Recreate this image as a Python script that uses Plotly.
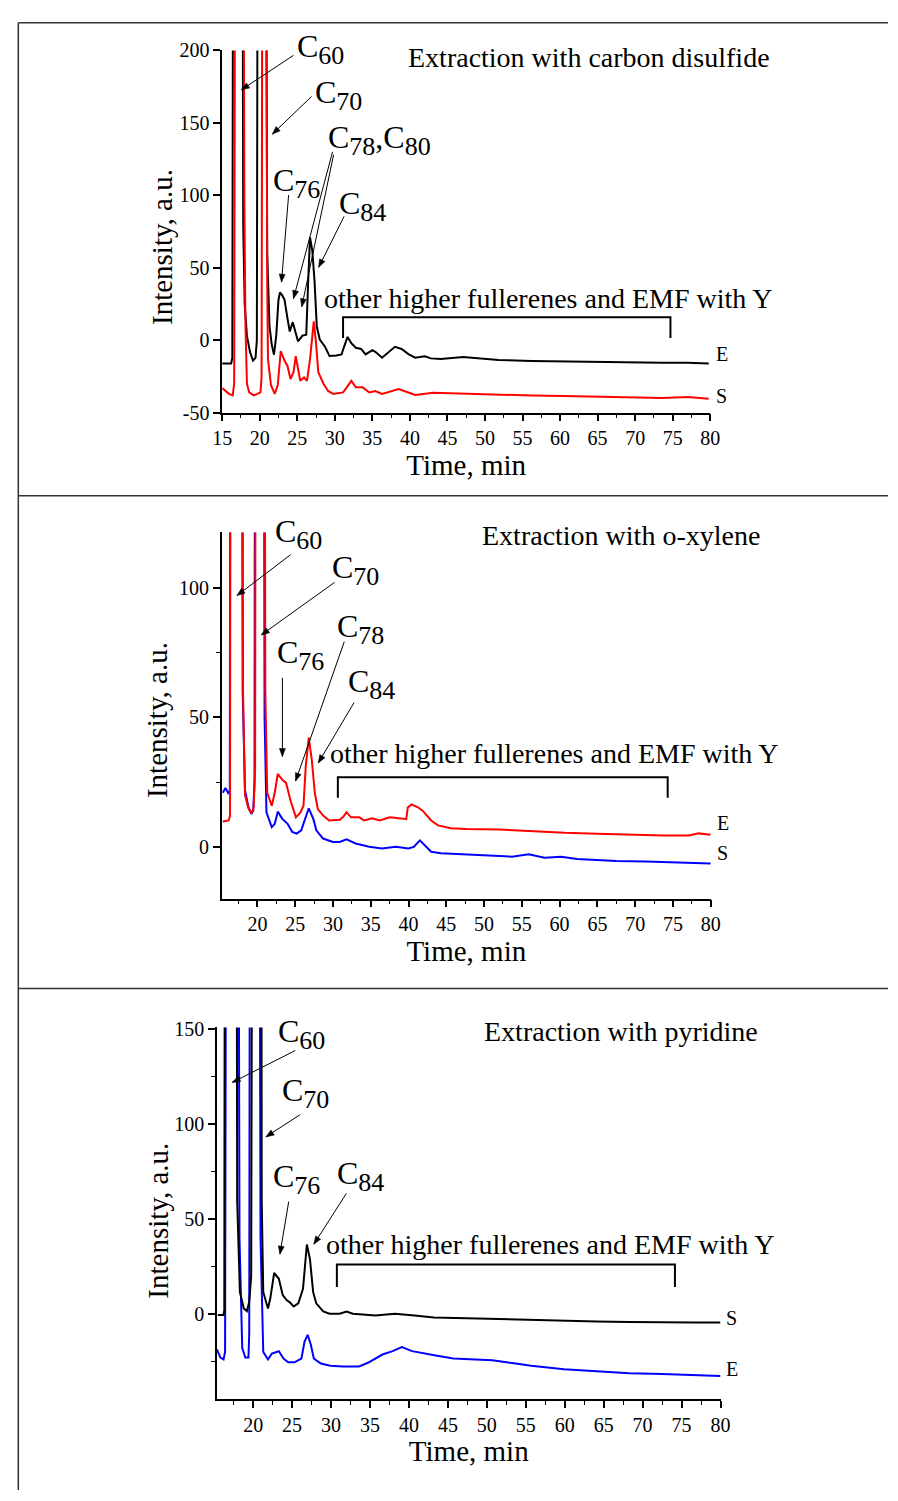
import math
import plotly.graph_objects as go

W, H = 898, 1501

# ---------------- data (time, min ; intensity, a.u.) ----------------
cs2_E = [(15.0, -16), (16.2, -16), (16.35, -12), (16.45, 300), (17.1, 2000), (17.65, 300), (17.8, 80),
         (18.0, 25), (18.3, 3), (18.7, -8), (19.1, -14), (19.45, -12), (19.62, 0), (19.72, 300),
         (20.25, 2000), (20.85, 300), (21.0, 60), (21.3, 10), (21.6, -3), (21.9, -10), (22.2, 3),
         (22.5, 28), (22.7, 33), (23.0, 31), (23.3, 28), (23.7, 15), (24.0, 6), (24.4, 12.5), (24.7, 6),
         (25.1, -0.7), (25.7, 3.2), (26.2, 3.9), (26.45, 40), (26.7, 71), (27.0, 62), (27.3, 41),
         (27.6, 9.5), (28.0, 0.5), (28.7, -4.5), (29.3, -10.9), (30.2, -10.5), (30.9, -9.8), (31.2, -5),
         (31.7, 2.3), (32.2, -2), (32.8, -5.2), (33.5, -6), (34.1, -9.8), (35.0, -6.8), (35.4, -8),
         (36.3, -12), (37.2, -8), (38.0, -4.5), (38.9, -6), (39.8, -9.5), (40.7, -12), (42.0, -11),
         (42.8, -12.5), (44.1, -13), (47.1, -11.5), (51.8, -13.6), (56.2, -14.3), (60.5, -14.7),
         (64.9, -15.2), (69.2, -15.4), (73.6, -15.6), (77.0, -15.5), (79.8, -16.1)]
cs2_S = [(15.0, -33), (15.9, -37), (16.4, -38), (16.6, -30), (16.72, 300), (17.3, 2000), (17.85, 300),
         (17.95, 100), (18.1, 10), (18.3, -30), (18.6, -36), (19.2, -38), (19.7, -37), (20.1, -36),
         (20.25, -25), (20.35, 300), (20.6, 2000), (20.85, 300), (21.0, 40), (21.1, -13), (21.5, -31),
         (22.0, -37), (22.4, -31), (22.8, -7.5), (23.3, -14), (23.7, -17.7), (24.1, -26.8), (24.5, -22),
         (24.8, -11), (25.1, -20), (25.4, -28), (25.9, -25.7), (26.3, -28), (26.7, -13), (27.2, 13),
         (27.5, -1.8), (27.8, -22), (28.5, -30), (29.1, -35), (29.8, -37), (31.1, -36), (31.6, -32.5),
         (32.2, -28), (32.8, -32.5), (33.7, -32.5), (34.6, -36), (35.4, -35), (36.3, -37), (37.6, -35),
         (38.5, -33.6), (39.8, -36), (40.7, -37.7), (43.1, -36.3), (47.5, -37), (51.8, -37.7),
         (56.2, -38.1), (60.5, -38.5), (64.9, -38.8), (69.2, -39.5), (73.6, -39.9), (77.0, -39.2),
         (79.8, -40.3)]

oxy_S = [(15.43, 20.9), (15.77, 22.8), (16.2, 20.4), (16.35, 22), (16.45, 300), (17.2, 2000), (17.9, 300),
         (18.05, 60), (18.36, 22), (18.8, 15.5), (19.2, 12.7), (19.45, 14), (19.62, 25), (19.72, 300),
         (20.3, 2000), (20.8, 300), (20.95, 50), (21.2, 13.3), (21.9, 7.6), (22.3, 8.9), (22.7, 13.6),
         (23.3, 10.8), (24.0, 8.9), (24.6, 5.8), (25.2, 5.1), (25.8, 6.4), (26.3, 10.8), (26.8, 14.9),
         (27.4, 10.8), (27.8, 6.4), (28.7, 3.2), (30.0, 1.9), (30.9, 1.9), (31.8, 2.9), (33.0, 1.3),
         (34.8, 0), (36.5, -0.6), (38.3, 0), (40.0, -0.6), (40.7, 0), (41.5, 2.5), (42.2, 0.6),
         (43.0, -1.9), (44.3, -2.5), (47.7, -2.9), (52.0, -3.4), (53.7, -3.8), (55.9, -2.9), (58.0, -4.2),
         (60.2, -3.8), (62.3, -4.7), (64.9, -5.1), (67.5, -5.5), (71.4, -5.7), (75.7, -6.1), (80.0, -6.4)]
oxy_E = [(15.43, 9.8), (16.2, 10.2), (16.38, 12), (16.48, 300), (17.2, 2000), (17.95, 300), (18.1, 60),
         (18.36, 20), (18.8, 15), (19.2, 13), (19.5, 15), (19.7, 30), (19.8, 300), (20.35, 2000),
         (20.9, 300), (21.05, 60), (21.3, 21), (21.9, 15.9), (22.3, 20.9), (22.7, 28.2), (23.3, 25.9),
         (23.8, 24.7), (24.4, 17.7), (25.1, 11.4), (25.7, 13.3), (26.1, 15.9), (26.4, 31.1), (26.8, 42.2),
         (27.2, 33.6), (27.6, 20.9), (28.0, 14.6), (28.7, 12.1), (29.5, 10.2), (30.9, 10.5), (31.3, 11.4),
         (31.8, 13.3), (32.4, 11.4), (33.5, 11.4), (34.1, 10.2), (35.2, 11.0), (36.2, 10.2), (37.5, 11.4),
         (39.0, 11.0), (39.7, 10.7), (39.9, 15.2), (40.4, 16.4), (41.3, 15.2), (41.9, 13.9), (43.0, 10.2),
         (43.9, 8.3), (45.6, 7.2), (47.7, 6.9), (52.0, 6.7), (56.4, 6.0), (60.7, 5.4), (65.0, 5.1),
         (69.4, 4.7), (73.7, 4.4), (77.1, 4.4), (78.4, 5.2), (80.0, 4.7)]

pyr_S = [(15.47, -0.5), (16.2, -0.5), (16.3, 2), (16.38, 300), (17.1, 2500), (17.8, 300), (17.95, 60),
         (18.3, 11.6), (18.8, 2.9), (19.2, 1.5), (19.5, 6.4), (19.75, 20), (19.9, 300), (20.5, 2500),
         (21.0, 300), (21.1, 60), (21.3, 11.6), (21.9, 2.9), (22.2, 8.1), (22.7, 21.6), (23.3, 18.5),
         (23.8, 9.9), (24.3, 7.3), (24.7, 6.1), (25.2, 3.9), (25.8, 5.6), (26.4, 13.2), (26.9, 36.6),
         (27.3, 28.8), (27.7, 11.6), (28.1, 5.6), (29.0, 1.3), (29.8, 0.1), (31.1, 0.1), (32.0, 1.3),
         (32.8, 0.1), (35.7, -0.8), (38.2, 0.1), (40.7, -0.8), (43.2, -1.9), (47.4, -2.3), (51.6, -2.8),
         (55.7, -3.1), (59.9, -3.7), (64.1, -4.0), (68.3, -4.2), (72.5, -4.5), (76.7, -4.5), (80.0, -4.5)]
pyr_E = [(15.35, -18.7), (15.8, -23), (16.2, -24), (16.4, -20), (16.55, 300), (17.3, 2500), (18.1, 300),
         (18.25, 40), (18.6, -18), (19.0, -23), (19.4, -23), (19.5, -10), (19.6, 300), (20.2, 2500),
         (20.8, 300), (20.95, 40), (21.3, -20), (21.9, -24), (22.4, -20.9), (22.8, -20.4), (23.3, -19.7),
         (23.9, -23.5), (24.5, -25.5), (25.3, -25.5), (26.2, -23.5), (26.6, -14.6), (27.0, -11.0),
         (27.4, -16.1), (27.8, -23.5), (28.7, -26.1), (29.9, -27.3), (31.5, -27.7), (33.6, -27.7),
         (34.8, -25.6), (36.6, -21.4), (37.9, -19.6), (39.1, -17.5), (40.4, -19.6), (42.1, -21.0),
         (43.8, -22.2), (45.7, -23.5), (48.6, -23.9), (50.7, -24.4), (53.7, -26.1), (55.7, -27.3),
         (59.9, -29.1), (64.1, -30.3), (68.3, -31.3), (72.5, -31.7), (76.7, -32.2), (80.0, -32.7)]

x_tickvals = [15, 20, 25, 30, 35, 40, 45, 50, 55, 60, 65, 70, 75, 80]
x_ticktext = ["15", "20", "25", "30", "35", "40", "45", "50", "55", "60", "65", "70", "75", "80"]
y1_tickvals = [-50, 0, 50, 100, 150, 200]
y1_ticktext = ["-50", "0", "50", "100", "150", "200"]
y2_tickvals = [0, 50, 100]
y2_ticktext = ["0", "50", "100"]
y3_tickvals = [0, 50, 100, 150]
y3_ticktext = ["0", "50", "100", "150"]

titles = ["Extraction with carbon disulfide", "Extraction with o-xylene", "Extraction with pyridine"]
range_label = "other higher fullerenes and EMF with Y"

FONT = "Liberation Serif"

fig = go.Figure()


def add_curve(pairs, color, n, name):
    fig.add_trace(go.Scatter(
        x=[p[0] for p in pairs], y=[p[1] for p in pairs], mode="lines", name=name,
        line=dict(color=color, width=2), xaxis="x" if n == 1 else f"x{n}",
        yaxis="y" if n == 1 else f"y{n}", showlegend=False))


add_curve(cs2_E, "black", 1, "E")
add_curve(cs2_S, "#ff0000", 1, "S")
add_curve(oxy_S, "#0000ff", 2, "S")
add_curve(oxy_E, "#ff0000", 2, "E")
add_curve(pyr_E, "#0000ff", 3, "E")
add_curve(pyr_S, "black", 3, "S")


def px(x):
    return x / W


def py(y):
    return 1 - y / H


# axis geometry in page pixels: (x_left, x_right, x_range, y_bottom, y_top, y_range)
geom = {
    1: (217, 716.2, (15, 80), 407.7, 40, (-50, 200)),
    2: (216.7, 716.7, (15.3, 80), 900.8, 529.2, (-20, 121.5)),
    3: (211.7, 726.7, (15.36, 80), 1408.4, 1031.5, (-44.7, 151)),
}

axis_common = dict(showline=True, linecolor="black", linewidth=1.5, ticks="outside", ticklen=7,
                   tickwidth=1.5, tickcolor="black", showgrid=False, zeroline=False,
                   tickfont=dict(family=FONT, size=20, color="black"), tickmode="array")
xt = dict(axis_common, tickvals=x_tickvals, ticktext=x_ticktext,
          minor=dict(dtick=2.5, tick0=15, ticks="outside", ticklen=4, tickwidth=1.2, tickcolor="black"),
          title=dict(text="Time, min", font=dict(family=FONT, size=29, color="black"), standoff=6))
yminor = dict(dtick=25, ticks="outside", ticklen=4, tickwidth=1.2, tickcolor="black")
yticks = {1: (y1_tickvals, y1_ticktext, None), 2: (y2_tickvals, y2_ticktext, yminor),
          3: (y3_tickvals, y3_ticktext, yminor)}

layout = dict(width=W, height=H, margin=dict(l=0, r=0, t=0, b=0),
              paper_bgcolor="white", plot_bgcolor="white", showlegend=False)
for n, (xl, xr, xrng, yb, ytop, yrng) in geom.items():
    s = "" if n == 1 else str(n)
    layout["xaxis" + s] = dict(xt, domain=[px(xl), px(xr)], range=list(xrng), anchor="y" + s)
    tv, tt, mn = yticks[n]
    ya = dict(axis_common, domain=[py(yb), py(ytop)], range=list(yrng), anchor="x" + s,
              tickvals=tv, ticktext=tt)
    if mn:
        ya["minor"] = mn
    layout["yaxis" + s] = ya
fig.update_layout(**layout)

# frame lines of the table-like layout
frame = dict(type="line", xref="paper", yref="paper", line=dict(color="#333333", width=1.5))
fig.add_shape(frame, x0=px(8.5), x1=px(8.5), y0=0, y1=py(12))
for yy in (12, 492, 992):
    fig.add_shape(frame, x0=px(8.5), x1=1, y0=py(yy), y1=py(yy))

# brackets
for n, (xl, xr, yb, yt) in zip((1, 2, 3), ((31.1, 74.7, 1.6, 15.9), (30.65, 74.3, 19.0, 26.9),
                                          (30.75, 74.15, 14.2, 26.0))):
    s = "" if n == 1 else str(n)
    fig.add_shape(type="path", xref="x" + s, yref="y" + s,
                  path=f"M {xl},{yb} L {xl},{yt} L {xr},{yt} L {xr},{yb}",
                  line=dict(color="black", width=2))


def text(x, y, t, size=28, xanchor="center", yanchor="middle", angle=0):
    fig.add_annotation(x=px(x), y=py(y), xref="paper", yref="paper", text=t, showarrow=False,
                       xanchor=xanchor, yanchor=yanchor, textangle=angle,
                       font=dict(family=FONT, size=size, color="black"))


def arrow(n, head, tail):
    s = "" if n == 1 else str(n)
    xl, xr, xrng, yb, ytop, yrng = geom[n]
    kx = (xr - xl) / (xrng[1] - xrng[0])
    ky = (yb - ytop) / (yrng[1] - yrng[0])
    dx = (head[0] - tail[0]) * kx
    dy = (head[1] - tail[1]) * ky
    d = math.hypot(dx, dy)
    ux, uy = dx / d, dy / d
    L, w = 8.0, 3.0
    bx, by = -L * ux, -L * uy
    p1 = (bx - w * uy, by + w * ux)
    p2 = (bx + w * uy, by - w * ux)
    fig.add_shape(type="line", xref="x" + s, yref="y" + s, x0=tail[0], y0=tail[1],
                  x1=head[0], y1=head[1], line=dict(color="black", width=1))
    fig.add_shape(type="path", xref="x" + s, yref="y" + s, xsizemode="pixel", ysizemode="pixel",
                  xanchor=head[0], yanchor=head[1],
                  path=f"M 0,0 L {p1[0]:.2f},{p1[1]:.2f} L {p2[0]:.2f},{p2[1]:.2f} Z",
                  fillcolor="black", line=dict(color="black", width=0.5))


def cname(num):
    return f"C<sub><span style='font-size:26px'>{num}</span></sub>"


# titles
text(592, 47, titles[0])
text(625, 532, titles[1])
text(625, 1036, titles[2])
# range labels
text(550, 292, range_label)
text(556, 754, range_label)
text(552, 1252, range_label)
# y titles
for yc, xc in ((240, 156), (720, 151), (1228, 151)):
    text(xc, yc, "Intensity, a.u.", size=29, angle=-90)
# E/S labels
for (x, y, t) in ((720, 348, "E"), (720, 391, "S"), (721, 824, "E"), (721, 855, "S"),
                  (730, 1326, "S"), (730, 1378, "E")):
    text(x, y, t, size=20, xanchor="left")

# peak labels (left x, top of the "C")
labels = [(292, 28, "60"), (310, 75, "70"), (267, 164, "76"), (334, 188, "84"),
          (269, 520, "60"), (327, 557, "70"), (271, 643, "76"), (332, 617, "78"), (344, 673, "84"),
          (272, 1028, "60"), (276, 1088, "70"), (267, 1175, "76"), (332, 1172, "84")]
for x, y, num in labels:
    text(x, y - 13, cname(num), size=32, xanchor="left", yanchor="top")
text(323, 121 - 13, cname("78") + "," + cname("80"), size=32, xanchor="left", yanchor="top")

# arrows (head, tail) in data coordinates
arrow(1, (17.56, 172.8), (24.5, 196.6))
arrow(1, (21.68, 142.2), (26.9, 168.2))
arrow(1, (22.9, 40.1), (23.85, 100.2))
arrow(1, (24.5, 28.8), (29.7, 130))
arrow(1, (25.6, 23.1), (29.84, 128))
arrow(1, (27.85, 50.3), (31.24, 85.5))
arrow(2, (17.29, 97.1), (24.4, 112.9))
arrow(2, (20.52, 81.9), (30.22, 102.2))
arrow(2, (23.31, 34.9), (23.31, 65.3))
arrow(2, (25.05, 25.4), (31.5, 79.3))
arrow(2, (28.06, 32.4), (32.8, 55.8))
arrow(3, (17.32, 122.0), (25.41, 138.8))
arrow(3, (21.64, 93.3), (26.03, 105.0))
arrow(3, (23.44, 31.5), (24.57, 59.2))
arrow(3, (27.79, 36.7), (31.97, 63.5))

fig.write_html("out.html", config={"displayModeBar": False},
               post_script="document.body.style.margin='0px';")
